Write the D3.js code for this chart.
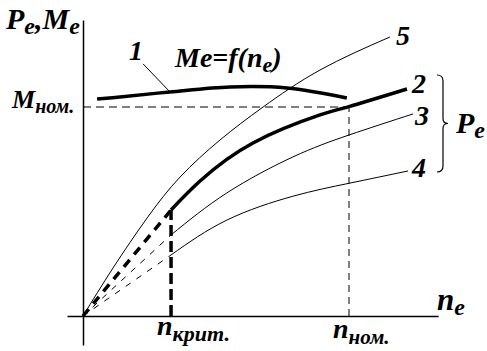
<!DOCTYPE html>
<html><head><meta charset="utf-8">
<script src="https://cdn.jsdelivr.net/npm/d3@7"></script>
<style>
body{margin:0;background:#fff}
svg{display:block}
</style>
</head><body>
<script>
// values in % of nominal speed (n) and % of nominal torque/power (v)
const nNom = 100, nKrit = 33.1, mNom = 100;
const axisN = [-6, 133.5];
const axisV = [-13.9, 141.6];

const curve1N = [5.3, 13.9, 32.7, 55.3, 76.7, 99.2];
const curve1V = [103.8, 104.8, 107.2, 109.6, 109.1, 104.3];

const curve5N = [0, 11.3, 24.1, 36.5, 51.5, 67.7, 89.1, 115.4];
const curve5V = [0, 23.0, 46.9, 66.5, 84.2, 100.0, 117.7, 133.5];

const curve2N = [33.1, 44.0, 63.9, 89.1, 100, 121.8];
const curve2V = [50.7, 64.6, 82.8, 96.2, 100.2, 108.6];

const curve3N = [33.1, 54.1, 78.9, 100, 124.1];
const curve3V = [38.8, 58.9, 76.1, 86.6, 96.7];

const curve4N = [33.1, 54.1, 78.9, 100, 122.2];
const curve4V = [29.2, 45.9, 57.3, 63.5, 69.4];

const W = 487, H = 351;
const FONT = '"Liberation Serif","Times New Roman",Times,"DejaVu Serif","Noto Serif",serif';
const svg = d3.select("body").append("svg").attr("width", W).attr("height", H);

const x = d3.scaleLinear().domain([0, 100]).range([83, 349]);
const y = d3.scaleLinear().domain([0, 100]).range([316, 107]);

// axes
const xA = d3.scaleLinear().domain(axisN).range(axisN.map(x));
const yA = d3.scaleLinear().domain(axisV).range(axisV.map(y));
svg.append("g").attr("transform", `translate(0,${y(0)})`)
  .call(d3.axisBottom(xA).tickValues([]).tickSizeOuter(0))
  .call(g => g.select(".domain").attr("stroke", "#000").attr("stroke-width", 1.5));
svg.append("g").attr("transform", `translate(${x(0)},0)`)
  .call(d3.axisLeft(yA).tickValues([]).tickSizeOuter(0))
  .call(g => g.select(".domain").attr("stroke", "#000").attr("stroke-width", 1.5));

const zip = (a, b) => a.map((d, i) => [d, b[i]]);
const line = d3.line().x(d => x(d[0])).y(d => y(d[1])).curve(d3.curveNatural);
const lineLin = d3.line().x(d => x(d[0])).y(d => y(d[1]));

// reference dashed lines
svg.append("path").attr("d", lineLin([[0, mNom], [nNom, mNom]]))
  .attr("fill", "none").attr("stroke", "#000").attr("stroke-width", 1).attr("stroke-dasharray", "8,5");
svg.append("path").attr("d", lineLin([[nNom, 0], [nNom, mNom]]))
  .attr("fill", "none").attr("stroke", "#000").attr("stroke-width", 1).attr("stroke-dasharray", "7,5");
svg.append("path").attr("d", lineLin([[nKrit, 0], [nKrit, curve2V[0]]]))
  .attr("fill", "none").attr("stroke", "#000").attr("stroke-width", 3.5).attr("stroke-dasharray", "11,5");

// dashed starts from origin
[[curve2V, 3.5, "9,7"], [curve3V, 1, "6,7"], [curve4V, 1, "6,7"]].forEach(([v, w, da]) => {
  svg.append("path").attr("d", lineLin([[0, 0], [nKrit, v[0]]]))
    .attr("fill", "none").attr("stroke", "#000").attr("stroke-width", w).attr("stroke-dasharray", da);
});

// curves
const drawCurve = (n, v, w, gen) => svg.append("path").attr("d", (gen || line)(zip(n, v)))
  .attr("fill", "none").attr("stroke", "#000").attr("stroke-width", w).attr("stroke-linejoin", "round");
drawCurve(curve5N, curve5V, 1);
drawCurve(curve3N, curve3V, 1);
drawCurve(curve4N, curve4V, 1);
drawCurve(curve2N, curve2V, 3.5);
drawCurve(curve1N, curve1V, 3.5, d3.line().x(d => x(d[0])).y(d => y(d[1])).curve(d3.curveCatmullRom));

// leader for label 1
svg.append("path").attr("d", lineLin([[22.6, 120.6], [curve1N[2], curve1V[2]]]))
  .attr("fill", "none").attr("stroke", "#000").attr("stroke-width", 1);

// brace for Pe
const bx = 437, by0 = 75, by1 = 172, bm = (by0 + by1) / 2;
svg.append("path")
  .attr("d", `M${bx},${by0} Q${bx + 6},${by0} ${bx + 6},${by0 + 6} L${bx + 6},${bm - 5} Q${bx + 6},${bm} ${bx + 11},${bm} Q${bx + 6},${bm} ${bx + 6},${bm + 5} L${bx + 6},${by1 - 6} Q${bx + 6},${by1} ${bx},${by1}`)
  .attr("fill", "none").attr("stroke", "#000").attr("stroke-width", 1.2);

// text helper: parts = [[text, isSub], ...]
function label(px, py, parts, size, subSize, subDy) {
  const t = svg.append("text").attr("x", px).attr("y", py).attr("font-size", size)
    .attr("font-family", FONT).attr("font-weight", "bold").attr("font-style", "italic").attr("fill", "#000");
  let sub = false;
  parts.forEach(([s, isSub]) => {
    const ts = t.append("tspan").text(s);
    if (isSub && !sub) { ts.attr("dy", subDy).attr("font-size", subSize); }
    else if (isSub) { ts.attr("font-size", subSize); }
    else if (!isSub && sub) { ts.attr("dy", -subDy); }
    sub = isSub;
  });
  return t;
}

label(6, 29, [["P"], ["e", 1], [","], ["M"], ["e", 1]], 30, 24, 5);
label(12, 108, [["M"], ["ном.", 1]], 26, 20, 5);
label(129, 60, [["1"]], 28);
label(175, 67, [["Me=f(n"], ["e", 1], [")"]], 28, 22, 5);
label(396, 45, [["5"]], 28);
label(412, 93, [["2"]], 28);
label(415, 125, [["3"]], 28);
label(412, 177, [["4"]], 28);
label(456, 133, [["P"], ["e", 1]], 30, 24, 5);
label(437, 310, [["n"], ["e", 1]], 31, 24, 5);
label(x(nKrit) - 14, 335, [["n"], ["крит.", 1]], 28, 22, 6);
label(x(nNom) - 16, 338, [["n"], ["ном.", 1]], 28, 21, 6);
</script>
</body></html>
